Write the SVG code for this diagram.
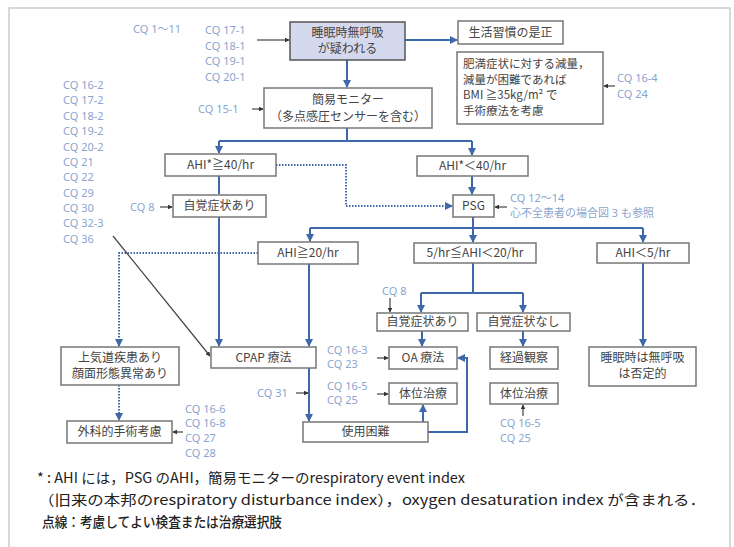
<svg xmlns="http://www.w3.org/2000/svg" width="734" height="547" viewBox="0 0 734 547">
<defs>
<marker id="ab" viewBox="0 0 8 8" refX="7" refY="4" markerWidth="4" markerHeight="4" orient="auto"><path d="M0,0 L8,4 L0,8 z" fill="#3f68aa"/></marker>
<marker id="ad" viewBox="0 0 8 8" refX="7" refY="4" markerWidth="4" markerHeight="4" orient="auto"><path d="M0,0 L8,4 L0,8 z" fill="#333"/></marker>
</defs>
<style>
.box{fill:#fff;stroke:#777;stroke-width:1.5}
.top{fill:#d5d9ee;stroke:#555;stroke-width:1.5}
.t{font-family:"Noto Sans CJK JP","Noto Sans",sans-serif;font-size:12px;fill:#444;text-anchor:middle}
.tl{font-family:"Noto Sans CJK JP","Noto Sans",sans-serif;font-size:11.5px;fill:#444}
.cq{font-family:"Noto Sans","Noto Sans CJK JP",sans-serif;font-size:11px;fill:#8aa5cf}
.bl{fill:none;stroke:#3f68aa;stroke-width:2}
.dt{fill:none;stroke:#3f68aa;stroke-width:2;stroke-dasharray:1.5 1.5}
.dk{fill:none;stroke:#444;stroke-width:1.2}
.fn{font-family:"Noto Sans CJK JP","Noto Sans",sans-serif;font-size:14px;fill:#222}
</style>
<rect x="0" y="0" width="734" height="547" fill="#fff"/>
<rect x="9" y="8" width="721" height="545" fill="#fff" stroke="#ccc" stroke-width="1.5"/>

<g id="connectors">
<path class="dk" d="M257,40 H289" marker-end="url(#ad)"/>
<path class="bl" d="M405,40 H457" marker-end="url(#ab)"/>
<path class="dk" d="M615,86 H604" marker-end="url(#ad)"/>
<path class="bl" d="M347,60 V87" marker-end="url(#ab)"/>
<path class="dk" d="M252,109 H263" marker-end="url(#ad)"/>
<path class="bl" d="M347,128 V141 M219,141 H472"/>
<path class="bl" d="M219,141 V153" marker-end="url(#ab)"/>
<path class="bl" d="M472,141 V155" marker-end="url(#ab)"/>
<path class="dt" d="M276,165 H346 V206 H452" marker-end="url(#ab)"/>
<path class="bl" d="M472,176 V194" marker-end="url(#ab)"/>
<path class="dk" d="M507,207 H495" marker-end="url(#ad)"/>
<path class="dk" d="M160,207 H172" marker-end="url(#ad)"/>
<path class="bl" d="M219,176 V194"/>
<path class="bl" d="M219,217 V346" marker-end="url(#ab)"/>
<path class="bl" d="M473,217 V228 M310,228 H643"/>
<path class="bl" d="M310,228 V241" marker-end="url(#ab)"/>
<path class="bl" d="M473,228 V242" marker-end="url(#ab)"/>
<path class="bl" d="M643,228 V242" marker-end="url(#ab)"/>
<path class="dt" d="M258,253 H119 V346" marker-end="url(#ab)"/>
<path class="dt" d="M119,385 V420" marker-end="url(#ab)"/>
<path class="dk" d="M183,432 H173" marker-end="url(#ad)"/>
<path class="dk" d="M113,236 L210,356" marker-end="url(#ad)"/>
<path class="bl" d="M309,264 V346" marker-end="url(#ab)"/>
<path class="bl" d="M309,368 V421" marker-end="url(#ab)"/>
<path class="dk" d="M296,393 H308" marker-end="url(#ad)"/>
<path class="bl" d="M473,263 V293 M421,293 H523"/>
<path class="bl" d="M421,293 V312" marker-end="url(#ab)"/>
<path class="bl" d="M523,293 V312" marker-end="url(#ab)"/>
<path class="dk" d="M390,298 V312" marker-end="url(#ad)"/>
<path class="bl" d="M422,331 V346" marker-end="url(#ab)"/>
<path class="bl" d="M423,422 V405" marker-end="url(#ab)"/>
<path class="bl" d="M428,432 H467 V358 H458" marker-end="url(#ab)"/>
<path class="dk" d="M377,358 H388" marker-end="url(#ad)"/>
<path class="dk" d="M377,394 H388" marker-end="url(#ad)"/>
<path class="bl" d="M523,331 V346" marker-end="url(#ab)"/>
<path class="dk" d="M523,416 V405" marker-end="url(#ad)"/>
<path class="bl" d="M643,263 V346" marker-end="url(#ab)"/>
</g>

<g id="cq-labels">
<text class="cq" x="133" y="33">CQ 1〜11</text>
<text class="cq" x="205" y="34">CQ 17-1</text>
<text class="cq" x="205" y="50">CQ 18-1</text>
<text class="cq" x="205" y="65">CQ 19-1</text>
<text class="cq" x="205" y="81">CQ 20-1</text>
<text class="cq" x="617" y="82">CQ 16-4</text>
<text class="cq" x="617" y="98">CQ 24</text>
<text class="cq" x="198" y="113">CQ 15-1</text>
<text class="cq" x="63" y="89">CQ 16-2</text>
<text class="cq" x="63" y="104">CQ 17-2</text>
<text class="cq" x="63" y="120">CQ 18-2</text>
<text class="cq" x="63" y="135">CQ 19-2</text>
<text class="cq" x="63" y="151">CQ 20-2</text>
<text class="cq" x="63" y="166">CQ 21</text>
<text class="cq" x="63" y="181">CQ 22</text>
<text class="cq" x="63" y="197">CQ 29</text>
<text class="cq" x="63" y="212">CQ 30</text>
<text class="cq" x="63" y="227">CQ 32-3</text>
<text class="cq" x="63" y="243">CQ 36</text>
<text class="cq" x="130" y="211">CQ 8</text>
<text class="cq" x="510" y="202" font-size="10.5">CQ 12〜14</text>
<text class="cq" x="510" y="217" font-size="10.5" font-family="Noto Sans CJK JP">心不全患者の場合図 3 も参照</text>
<text class="cq" x="185" y="413">CQ 16-6</text>
<text class="cq" x="185" y="427">CQ 16-8</text>
<text class="cq" x="185" y="442">CQ 27</text>
<text class="cq" x="185" y="457">CQ 28</text>
<text class="cq" x="257" y="397">CQ 31</text>
<text class="cq" x="382" y="295">CQ 8</text>
<text class="cq" x="327" y="354">CQ 16-3</text>
<text class="cq" x="327" y="368">CQ 23</text>
<text class="cq" x="327" y="390">CQ 16-5</text>
<text class="cq" x="327" y="404">CQ 25</text>
<text class="cq" x="500" y="427">CQ 16-5</text>
<text class="cq" x="500" y="442">CQ 25</text>
</g>

<g id="n-suspect"><rect class="top" x="290" y="22" width="115" height="38"/><text class="t" x="347.5" y="37">睡眠時無呼吸</text><text class="t" x="347.5" y="53">が疑われる</text></g>
<g id="n-lifestyle"><rect class="box" x="458" y="21" width="105" height="23"/><text class="t" x="510.5" y="37">生活習慣の是正</text></g>
<g id="n-weight"><rect class="box" x="457" y="52" width="146" height="72"/><text class="tl" x="463" y="68">肥満症状に対する減量，</text><text class="tl" x="463" y="83.5">減量が困難であれば</text><text class="tl" x="463" y="99">BMI ≧35kg/m² で</text><text class="tl" x="463" y="114.5">手術療法を考慮</text></g>
<g id="n-monitor"><rect class="box" x="264" y="88" width="168" height="40"/><text class="t" x="348" y="104">簡易モニター</text><text class="t" x="348" y="121">（多点感圧センサーを含む）</text></g>
<g id="n-ahi40"><rect class="box" x="165" y="154" width="111" height="22"/><text class="t" x="220.5" y="169">AHI*≧40/hr</text></g>
<g id="n-ahilt40"><rect class="box" x="417" y="156" width="111" height="20"/><text class="t" x="472.5" y="170">AHI*＜40/hr</text></g>
<g id="n-psg"><rect class="box" x="453" y="195" width="41" height="22"/><text class="t" x="473.5" y="210">PSG</text></g>
<g id="n-symptom1"><rect class="box" x="173" y="195" width="93" height="22"/><text class="t" x="219.5" y="210">自覚症状あり</text></g>
<g id="n-ahi20"><rect class="box" x="258" y="242" width="100" height="22"/><text class="t" x="308" y="257">AHI≧20/hr</text></g>
<g id="n-ahi5-20"><rect class="box" x="414" y="243" width="122" height="20"/><text class="t" x="475" y="257">5/hr≦AHI＜20/hr</text></g>
<g id="n-ahilt5"><rect class="box" x="597" y="243" width="92" height="20"/><text class="t" x="643" y="257">AHI＜5/hr</text></g>
<g id="n-airway"><rect class="box" x="61" y="347" width="118" height="38"/><text class="t" x="120" y="362">上気道疾患あり</text><text class="t" x="120" y="378">顔面形態異常あり</text></g>
<g id="n-surgery"><rect class="box" x="67" y="421" width="105" height="22"/><text class="t" x="119.5" y="436">外科的手術考慮</text></g>
<g id="n-cpap"><rect class="box" x="211" y="347" width="105" height="21"/><text class="t" x="263.5" y="362">CPAP 療法</text></g>
<g id="n-difficult"><rect class="box" x="303" y="422" width="125" height="20"/><text class="t" x="365.5" y="436">使用困難</text></g>
<g id="n-symptom2"><rect class="box" x="377" y="313" width="91" height="18"/><text class="t" x="422.5" y="326">自覚症状あり</text></g>
<g id="n-nosymptom"><rect class="box" x="477" y="313" width="93" height="18"/><text class="t" x="523.5" y="326">自覚症状なし</text></g>
<g id="n-oa"><rect class="box" x="389" y="347" width="68" height="22"/><text class="t" x="423" y="362">OA 療法</text></g>
<g id="n-position1"><rect class="box" x="389" y="383" width="68" height="21"/><text class="t" x="423" y="398">体位治療</text></g>
<g id="n-observe"><rect class="box" x="490" y="347" width="68" height="22"/><text class="t" x="524" y="362">経過観察</text></g>
<g id="n-position2"><rect class="box" x="490" y="383" width="68" height="21"/><text class="t" x="524" y="398">体位治療</text></g>
<g id="n-negative"><rect class="box" x="589" y="347" width="107" height="39"/><text class="t" x="642.5" y="362">睡眠時は無呼吸</text><text class="t" x="642.5" y="378">は否定的</text></g>

<g id="footnote">
<text class="fn" x="37" y="483" textLength="428" lengthAdjust="spacingAndGlyphs">* : AHI には，PSG のAHI，簡易モニターのrespiratory event index</text>
<text class="fn" x="38" y="505" textLength="668" lengthAdjust="spacingAndGlyphs">（旧来の本邦のrespiratory disturbance index），oxygen desaturation index が含まれる．</text>
<text class="fn" x="42" y="527" textLength="240" lengthAdjust="spacingAndGlyphs" font-weight="500">点線：考慮してよい検査または治療選択肢</text>
</g>
</svg>
